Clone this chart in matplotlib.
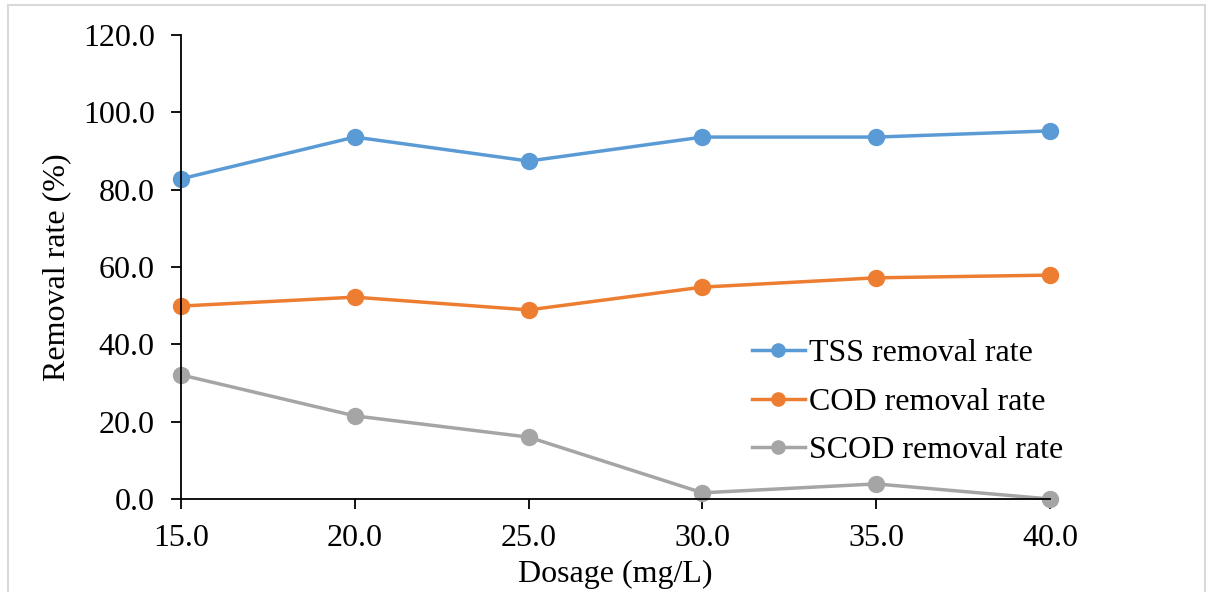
import matplotlib.pyplot as plt
from matplotlib.patches import Rectangle

plt.rcParams['font.family'] = ['Liberation Serif', 'DejaVu Serif']

dosage = [15.0, 20.0, 25.0, 30.0, 35.0, 40.0]
tss = [82.8, 93.6, 87.4, 93.6, 93.6, 95.2]
cod = [49.9, 52.2, 48.9, 54.8, 57.2, 57.9]
scod = [32.1, 21.5, 16.0, 1.6, 3.9, 0.0]

fig = plt.figure(figsize=(12.1, 5.92), dpi=100)
ax = fig.add_axes([0.1496, 0.1571, 0.7182, 0.7838])

# light frame around the whole chart
fig.patches.append(Rectangle((8 / 1210, -0.1), 1197 / 1210, 1 - 5 / 592 + 0.1,
                             transform=fig.transFigure, fill=False,
                             edgecolor='#d9d9d9', linewidth=1.5))

style = dict(linewidth=2.5, marker='o', markersize=11.5, clip_on=False)
ax.plot(dosage, tss, color='#5B9BD5', label='TSS removal rate', **style)
ax.plot(dosage, cod, color='#ED7D31', label='COD removal rate', **style)
ax.plot(dosage, scod, color='#A5A5A5', label='SCOD removal rate', **style)

ax.set_xlim(15, 40)
ax.set_ylim(0, 120)
ax.set_xticks(dosage)
ax.set_xticklabels([f'{d:.1f}' for d in dosage])
ax.set_yticks(range(0, 121, 20))
ax.set_yticklabels([f'{v:.1f}' for v in range(0, 121, 20)])
ax.tick_params(labelsize=23, length=7, width=1.3, color='black')
ax.tick_params(axis='x', pad=11)
ax.tick_params(axis='y', pad=12)

ax.spines['top'].set_visible(False)
ax.spines['right'].set_visible(False)
ax.spines['left'].set_linewidth(1.3)
ax.spines['bottom'].set_linewidth(1.3)

ax.set_xlabel('Dosage (mg/L)', fontsize=23, labelpad=5)
ax.set_ylabel('Removal rate (%)', fontsize=23, labelpad=8)

leg = ax.legend(loc='center left', bbox_to_anchor=(0.657, 0.209), frameon=False,
                fontsize=23, handlelength=1.65, handletextpad=0.15,
                labelspacing=0.6, borderpad=0, borderaxespad=0)
for h in leg.legend_handles:
    h.set_markersize(9.5)

fig.savefig('out.png', dpi=100)
